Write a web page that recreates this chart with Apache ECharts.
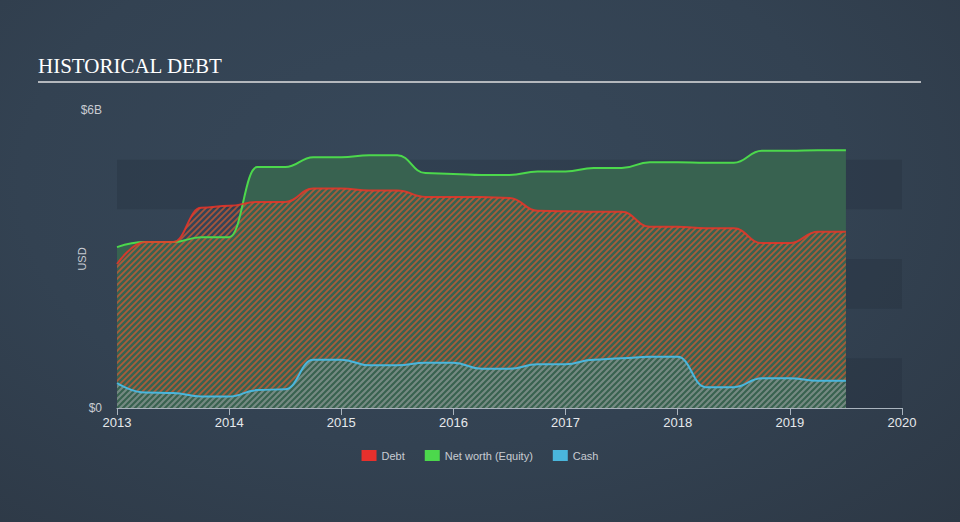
<!DOCTYPE html>
<html>
<head>
<meta charset="utf-8">
<script src="https://cdn.jsdelivr.net/npm/echarts@6/dist/echarts.min.js"></script>
<style>
html,body{margin:0;padding:0;width:960px;height:522px;overflow:hidden;
background:radial-gradient(ellipse at 45% 35%, #37485a 0%, #334252 55%, #2d3845 100%);}
#chart{width:960px;height:522px;}
</style>
</head>
<body>
<div id="chart"></div>
<script>
// Decimal-year positions of the reported quarters
const quarters = [2013.0, 2013.25, 2013.5, 2013.75, 2014.0, 2014.25, 2014.5, 2014.75,
  2015.0, 2015.25, 2015.5, 2015.75, 2016.0, 2016.25, 2016.5, 2016.75,
  2017.0, 2017.25, 2017.5, 2017.75, 2018.0, 2018.25, 2018.5, 2018.75,
  2019.0, 2019.25, 2019.5];
// Values in billions USD
const debt = [2.90, 3.34, 3.34, 4.03, 4.07, 4.15, 4.15, 4.42, 4.42, 4.38, 4.38, 4.25,
  4.25, 4.25, 4.23, 3.97, 3.96, 3.95, 3.95, 3.65, 3.65, 3.62, 3.62, 3.32, 3.32, 3.55, 3.55];
const equity = [3.24, 3.34, 3.34, 3.44, 3.44, 4.85, 4.85, 5.05, 5.05, 5.09, 5.09, 4.73,
  4.71, 4.69, 4.69, 4.76, 4.76, 4.83, 4.83, 4.95, 4.95, 4.94, 4.94, 5.18, 5.18, 5.19, 5.19];
const cash = [0.50, 0.31, 0.30, 0.23, 0.23, 0.36, 0.38, 0.97, 0.97, 0.86, 0.86, 0.91,
  0.91, 0.79, 0.79, 0.88, 0.88, 0.97, 1.00, 1.03, 1.03, 0.42, 0.42, 0.60, 0.60, 0.55, 0.55];
const yearTicks = [2013, 2014, 2015, 2016, 2017, 2018, 2019, 2020];
const legendNames = ['Debt', 'Net worth (Equity)', 'Cash'];

function hatch(color, w) {
  const c = document.createElement('canvas');
  c.width = 6; c.height = 6;
  const g = c.getContext('2d');
  g.strokeStyle = color; g.lineWidth = w;
  g.beginPath();
  g.moveTo(0, 6); g.lineTo(6, 0);
  g.moveTo(-3, 3); g.lineTo(3, -3);
  g.moveTo(3, 9); g.lineTo(9, 3);
  g.stroke();
  return {image: c, repeat: 'repeat', imageWidth: 6, imageHeight: 6};
}
function pairs(vals) { return quarters.map((q, i) => [q, vals[i]]); }

const RED = '#e8302c', GREEN = '#4cd84c', BLUE = '#4ab6dc';
const chart = echarts.init(document.getElementById('chart'), null, {renderer: 'svg'});
const smooth = 0.45;
const areaBase = {type: 'line', showSymbol: false, smooth: smooth, smoothMonotone: 'x',
  lineStyle: {width: 0, opacity: 0}, silent: true, animation: false};
const lineBase = {type: 'line', showSymbol: false, smooth: smooth, smoothMonotone: 'x',
  animation: false};
const band = 'rgba(28,36,48,0.22)';

chart.setOption({
  backgroundColor: 'transparent',
  title: {text: 'HISTORICAL DEBT', left: 33, top: 50,
    textStyle: {color: '#ffffff', fontFamily: 'Liberation Serif', fontWeight: 'normal', fontSize: 21}},
  graphic: [{type: 'rect', shape: {x: 38, y: 81, width: 883, height: 2},
    style: {fill: '#b4b8bd'}, silent: true}],
  legend: {
    data: legendNames.map((n, i) => ({name: n, itemStyle: {color: [RED, GREEN, BLUE][i]}, icon: 'rect'})),
    top: 445, left: 'center', itemWidth: 15, itemHeight: 11, itemGap: 20,
    textStyle: {color: '#c8ccd2', fontSize: 11, fontFamily: 'Liberation Sans'}
  },
  grid: {left: 117, right: 58, top: 110, bottom: 114},
  xAxis: {type: 'value', min: 2013, max: 2020, interval: 1,
    axisLine: {show: true, lineStyle: {color: '#aab4be', width: 1}},
    axisTick: {show: true, length: 7, lineStyle: {color: '#aab4be'}},
    splitLine: {show: false},
    axisLabel: {color: '#e6e9ec', fontSize: 13, fontFamily: 'Liberation Sans', margin: 8,
      formatter: v => yearTicks.includes(v) ? String(v) : ''}
  },
  yAxis: {type: 'value', min: 0, max: 6, interval: 1,
    name: 'USD', nameLocation: 'middle', nameGap: 30, nameRotate: 90, nameMoveOverlap: false,
    nameTextStyle: {color: '#c8ccd2', fontSize: 11, fontFamily: 'Liberation Sans'},
    axisLine: {show: false}, axisTick: {show: false}, splitLine: {show: false},
    splitArea: {show: true, areaStyle: {color: [band, 'rgba(0,0,0,0)', band, 'rgba(0,0,0,0)', band, 'rgba(0,0,0,0)']}},
    axisLabel: {color: '#c8ccd2', fontSize: 12, fontFamily: 'Liberation Sans', margin: 15,
      formatter: v => v === 0 ? '$0' : (v === 6 ? '$6B' : '')}
  },
  series: [
    Object.assign({}, areaBase, {name: 'Net worth (Equity)', data: pairs(equity), z: 1,
      itemStyle: {color: GREEN}, areaStyle: {color: '#386250', opacity: 1}}),
    Object.assign({}, areaBase, {name: 'Debt', data: pairs(debt), z: 2,
      itemStyle: {color: RED}, areaStyle: {color: hatch('rgba(210,90,50,0.72)', 1.8), opacity: 1}}),
    Object.assign({}, areaBase, {name: 'Cash', data: pairs(cash), z: 3,
      itemStyle: {color: BLUE}, areaStyle: {color: hatch('rgba(100,150,150,0.8)', 2), opacity: 1}}),
    Object.assign({}, lineBase, {name: 'Net worth (Equity)', data: pairs(equity), z: 4,
      itemStyle: {color: GREEN}, lineStyle: {color: GREEN, width: 2}}),
    Object.assign({}, lineBase, {name: 'Debt', data: pairs(debt), z: 5,
      itemStyle: {color: RED}, lineStyle: {color: 'rgba(236,52,40,0.85)', width: 2}}),
    Object.assign({}, lineBase, {name: 'Cash', data: pairs(cash), z: 6,
      itemStyle: {color: BLUE}, lineStyle: {color: BLUE, width: 2}})
  ]
});
</script>
</body>
</html>
